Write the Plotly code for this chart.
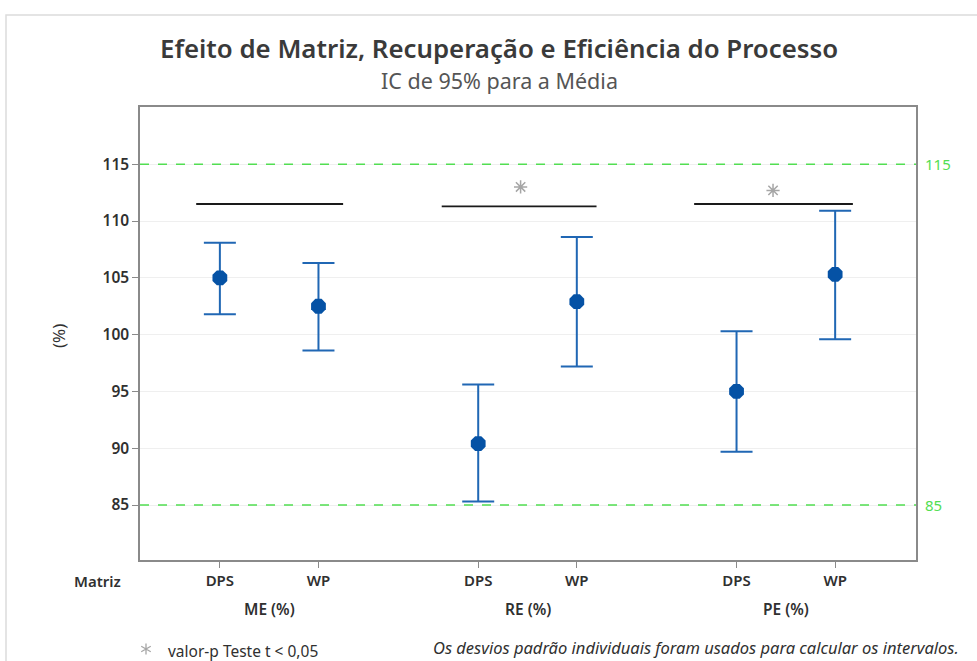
import math
import plotly.graph_objects as go

# Interval plot data: mean and 95% CI bounds per group/matrix
groups = ["ME (%)", "RE (%)", "PE (%)"]
matrices = ["DPS", "WP"]
means = [105.0, 102.5, 90.4, 102.9, 95.0, 105.3]
lower = [101.8, 98.6, 85.3, 97.2, 89.7, 99.6]
upper = [108.1, 106.3, 95.6, 108.6, 100.3, 110.9]

# Comparison brackets and significance markers
bracket_y = [111.5, 111.3, 111.5]
bracket_from = [-0.24, -0.37, -0.43]
bracket_to = [1.25, 1.20, 1.18]
significant = [False, True, True]
star_y = [113.0, 113.0, 112.7]
star_offset = [0.45, 0.43, 0.37]

limits = [85, 115]

GROUP_STEP = 2.62
FONT = "Noto Sans"
BLUE_MARK = "#0552a5"
BLUE_BAR = "#2067b4"
GREEN = "#52de52"
STAR = "#a6a6a6"
TXT = "#303030"
Y_RANGE = [80.16, 120.04]

# plot-area pixel box, used to place paper-anchored text
PX_L, PX_R, PX_T, PX_B = 140, 916, 107, 560


def px(x):
    return (x - PX_L) / (PX_R - PX_L)


def py(y):
    return (PX_B - y) / (PX_B - PX_T)


xpos = []
for gi, _ in enumerate(groups):
    for mi, _ in enumerate(matrices):
        xpos.append(gi * GROUP_STEP + mi)

x_range = [-0.81, xpos[-1] + 0.82]

fig = go.Figure()

# outer frame
fig.add_shape(type="rect", xref="paper", yref="paper",
              x0=px(6), x1=px(995), y0=py(700), y1=py(15),
              line=dict(color="#dcdcdc", width=1.5), fillcolor="rgba(0,0,0,0)", layer="below")

# limit lines
for lim in limits:
    fig.add_shape(type="line", xref="paper", yref="y", x0=0, x1=1, y0=lim, y1=lim,
                  line=dict(color=GREEN, width=1.6, dash="dash"), layer="above")

# small asterisk used as the footnote key (three crossing strokes)
kx, ky, kr = 146, 649, 5.5
path = ""
for ang in (90, 30, 150):
    dx = kr * math.cos(math.radians(ang))
    dy = kr * math.sin(math.radians(ang))
    path += f"M{px(kx - dx)},{py(ky + dy)} L{px(kx + dx)},{py(ky - dy)} "
fig.add_shape(type="path", xref="paper", yref="paper", path=path.strip(),
              line=dict(color=STAR, width=1.3))

# brackets
for gi in range(len(groups)):
    x0 = gi * GROUP_STEP
    fig.add_trace(go.Scatter(
        x=[x0 + bracket_from[gi], x0 + bracket_to[gi]],
        y=[bracket_y[gi], bracket_y[gi]],
        mode="lines", line=dict(color="#1a1a1a", width=1.8),
        hoverinfo="skip", showlegend=False))

# significance stars
sx = [gi * GROUP_STEP + star_offset[gi] for gi in range(len(groups)) if significant[gi]]
sy = [star_y[gi] for gi in range(len(groups)) if significant[gi]]
fig.add_trace(go.Scatter(
    x=sx, y=sy, mode="markers",
    marker=dict(symbol="asterisk-open", size=11, color=STAR, line=dict(color=STAR, width=1.5)),
    hoverinfo="skip", showlegend=False))

# intervals
fig.add_trace(go.Scatter(
    x=xpos, y=means, mode="markers",
    marker=dict(symbol="octagon", size=16, color=BLUE_MARK),
    error_y=dict(type="data", symmetric=False,
                 array=[u - m for u, m in zip(upper, means)],
                 arrayminus=[m - l for m, l in zip(means, lower)],
                 color=BLUE_BAR, thickness=2, width=16),
    showlegend=False))

fig.update_xaxes(
    range=x_range,
    tickvals=xpos, ticktext=matrices * len(groups),
    ticks="outside", ticklen=6, tickcolor="#8a8a8a", tickwidth=1,
    tickfont=dict(family=FONT, size=15, color=TXT, weight=600),
    showgrid=False, zeroline=False,
    showline=True, linecolor="#8a8a8a", linewidth=1.5, mirror=True)

fig.update_yaxes(
    range=Y_RANGE,
    tickvals=[85, 90, 95, 100, 105, 110, 115],
    ticks="outside", ticklen=6, tickcolor="#8a8a8a", tickwidth=1,
    tickfont=dict(family=FONT, size=15.5, color=TXT, weight=600),
    showgrid=True, gridcolor="#efefef", gridwidth=1, zeroline=False,
    showline=True, linecolor="#8a8a8a", linewidth=1.5, mirror=True)

ann = []
# titles
ann.append(dict(text="Efeito de Matriz, Recuperação e Eficiência do Processo",
                xref="paper", yref="paper", x=px(499), y=py(48), yanchor="middle",
                showarrow=False, font=dict(family=FONT, size=25.8, color="#3a3a3a", weight=600)))
ann.append(dict(text="IC de 95% para a Média",
                xref="paper", yref="paper", x=px(499), y=py(81), yanchor="middle",
                showarrow=False, font=dict(family=FONT, size=21.5, color="#555555")))
# y label
ann.append(dict(text="(%)", xref="paper", yref="paper", x=px(58), y=py(336),
                xanchor="center", yanchor="middle",
                textangle=-90, showarrow=False, font=dict(family=FONT, size=17, color=TXT)))
# matrix header
ann.append(dict(text="Matriz", xref="paper", yref="paper", x=px(97), y=py(581),
                xanchor="center", yanchor="middle",
                showarrow=False, font=dict(family=FONT, size=15, color=TXT, weight=600)))
# group labels
for gi, g in enumerate(groups):
    ann.append(dict(text=g, xref="x", yref="paper", x=gi * GROUP_STEP + 0.5, y=py(609),
                    yanchor="middle",
                    showarrow=False, font=dict(family=FONT, size=15.5, color=TXT, weight=600)))
# right-side limit labels
for lim in limits:
    ann.append(dict(text=str(lim), xref="paper", yref="y", x=px(923), y=lim,
                    xanchor="left", yanchor="middle",
                    showarrow=False, font=dict(family=FONT, size=15, color=GREEN)))
# footnotes
ann.append(dict(text="valor-p Teste t < 0,05", xref="paper", yref="paper",
                x=px(166), y=py(651), xanchor="left", yanchor="middle",
                showarrow=False, font=dict(family=FONT, size=15.5, color=TXT)))
ann.append(dict(text="<i>Os desvios padrão individuais foram usados para calcular os intervalos.</i>",
                xref="paper", yref="paper", x=px(961), y=py(647), xanchor="right", yanchor="middle",
                showarrow=False, font=dict(family=FONT, size=16.5, color=TXT)))

fig.update_layout(
    width=977, height=661,
    margin=dict(l=PX_L, r=977 - PX_R, t=PX_T, b=661 - PX_B),
    paper_bgcolor="white", plot_bgcolor="white",
    annotations=ann,
    font=dict(family=FONT))

fig.write_html("out.html")
